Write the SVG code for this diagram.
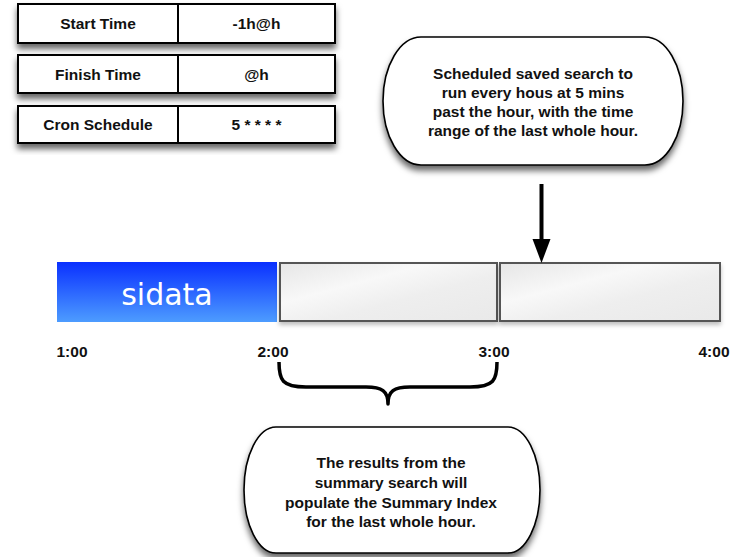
<svg xmlns="http://www.w3.org/2000/svg" width="737" height="557" viewBox="0 0 737 557">
  <style>
    .cell { fill: #ffffff; stroke: #000000; stroke-width: 2; }
    .lbl { font-family: "Liberation Sans", Arial, sans-serif; font-weight: bold; font-size: 15.5px; fill: #111111; text-anchor: middle; }
    .bubble { fill: #ffffff; stroke: #000000; stroke-width: 1.6; }
    .slot { fill: url(#slotGrad); stroke: #555555; stroke-width: 2; }
    .tick { font-family: "Liberation Sans", Arial, sans-serif; font-weight: bold; font-size: 15.5px; fill: #111111; text-anchor: middle; }
  </style>
  <defs>
    <filter id="shadow" x="-10%" y="-20%" width="120%" height="150%">
      <feDropShadow dx="0" dy="5" stdDeviation="3" flood-color="#000000" flood-opacity="0.6"/>
    </filter>
    <filter id="softShadow" x="-10%" y="-20%" width="120%" height="150%">
      <feDropShadow dx="0" dy="3" stdDeviation="2" flood-color="#000000" flood-opacity="0.25"/>
    </filter>
    <linearGradient id="blueGrad" x1="0" y1="0" x2="0" y2="1">
      <stop offset="0" stop-color="#0a30ff"/>
      <stop offset="1" stop-color="#4d9cff"/>
    </linearGradient>
    <linearGradient id="slotGrad" x1="0" y1="0" x2="1" y2="1">
      <stop offset="0" stop-color="#e6e6e6"/>
      <stop offset="0.35" stop-color="#f8f8f8"/>
      <stop offset="0.6" stop-color="#eeeeee"/>
      <stop offset="1" stop-color="#e9e9e9"/>
    </linearGradient>
  </defs>

  <!-- schedule settings table -->
  <g id="row-start" filter="url(#shadow)">
    <rect class="cell" x="18" y="4" width="160" height="39"/>
    <rect class="cell" x="178" y="4" width="157" height="39"/>
  </g>
  <g id="row-start-text">
    <text class="lbl" x="98" y="29">Start Time</text>
    <text class="lbl" x="256.5" y="29">-1h@h</text>
  </g>
  <g id="row-finish" filter="url(#shadow)">
    <rect class="cell" x="18" y="55" width="160" height="38"/>
    <rect class="cell" x="178" y="55" width="157" height="38"/>
  </g>
  <g id="row-finish-text">
    <text class="lbl" x="98" y="80">Finish Time</text>
    <text class="lbl" x="256.5" y="80">@h</text>
  </g>
  <g id="row-cron" filter="url(#shadow)">
    <rect class="cell" x="18" y="106" width="160" height="37"/>
    <rect class="cell" x="178" y="106" width="157" height="37"/>
  </g>
  <g id="row-cron-text">
    <text class="lbl" x="98" y="130">Cron Schedule</text>
    <text class="lbl" x="256.5" y="130">5 * * * *</text>
  </g>

  <!-- scheduled search note -->
  <g id="note-schedule">
    <rect class="bubble" x="383" y="37" width="300" height="128" rx="38" ry="64" filter="url(#shadow)"/>
    <text class="lbl" x="533" y="79">Scheduled saved search to</text>
    <text class="lbl" x="533" y="98">run every hous at 5 mins</text>
    <text class="lbl" x="533" y="117">past the hour, with the time</text>
    <text class="lbl" x="533" y="136">range of the last whole hour.</text>
  </g>

  <!-- timeline -->
  <g id="slot-sidata">
    <rect x="57" y="262" width="220" height="60" fill="url(#blueGrad)"/>
    <text x="167" y="305" font-family="DejaVu Sans, Verdana, sans-serif" font-size="30" fill="#ffffff" text-anchor="middle">sidata</text>
  </g>
  <g id="slot-2" filter="url(#softShadow)">
    <rect class="slot" x="280" y="263" width="217" height="58"/>
  </g>
  <g id="slot-3" filter="url(#softShadow)">
    <rect class="slot" x="500" y="263" width="220" height="58"/>
  </g>
  <g id="time-labels">
    <text class="tick" x="72" y="357">1:00</text>
    <text class="tick" x="273" y="357">2:00</text>
    <text class="tick" x="494" y="357">3:00</text>
    <text class="tick" x="714" y="357">4:00</text>
  </g>

  <!-- connectors -->
  <g id="connectors">
    <line x1="541.5" y1="184" x2="541.5" y2="242" stroke="#000000" stroke-width="4"/>
    <polygon points="532.5,239 550.5,239 541.5,263" fill="#000000"/>
    <path d="M279,362 C279,380 282,387 306,387 L366,387 C382,387 388,391 388,404 C388,391 394,387 410,387 L470,387 C494,387 497,380 497,362" fill="none" stroke="#000000" stroke-width="3.5" stroke-linejoin="round"/>
  </g>

  <!-- summary index note -->
  <g id="note-summary">
    <rect class="bubble" x="244" y="427" width="296" height="126" rx="32" ry="63" filter="url(#shadow)"/>
    <text class="lbl" x="391" y="468">The results from the</text>
    <text class="lbl" x="391" y="488">summary search will</text>
    <text class="lbl" x="391" y="508">populate the Summary Index</text>
    <text class="lbl" x="391" y="527">for the last whole hour.</text>
  </g>
</svg>
